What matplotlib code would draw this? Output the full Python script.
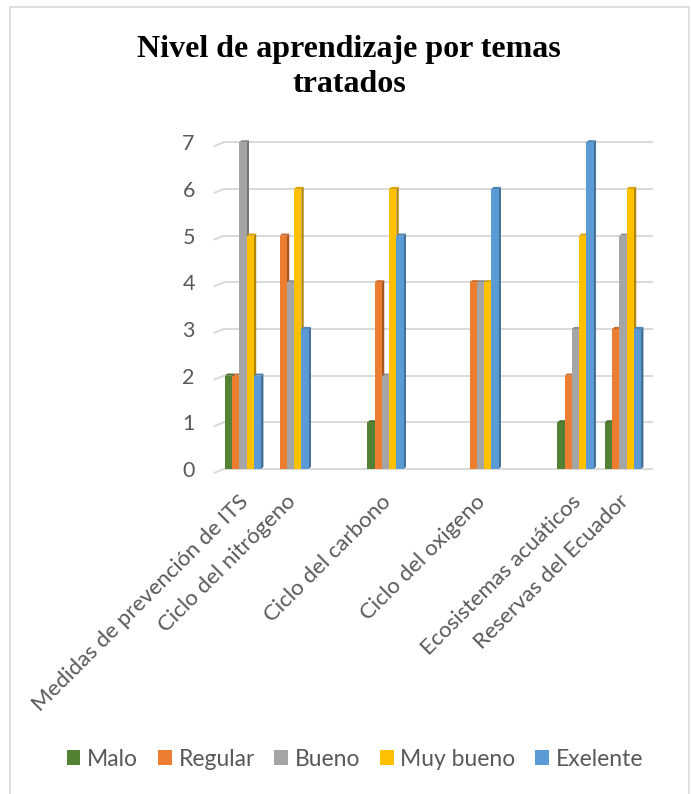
import matplotlib
matplotlib.use("Agg")
import matplotlib.pyplot as plt
from matplotlib.patches import Polygon, Rectangle
from matplotlib.transforms import ScaledTranslation
import matplotlib.colors as mcolors

# ---------------- data ----------------
categories = ["Medidas de prevención de ITS", "Ciclo del nitrógeno", "Ciclo del carbono",
              "Ciclo del oxigeno", "Ecosistemas acuáticos", "Reservas del Ecuador"]
series_names = ["Malo", "Regular", "Bueno", "Muy bueno", "Exelente"]
malo      = [2, 0, 1, 0, 1, 1]
regular   = [2, 5, 4, 4, 2, 3]
bueno     = [7, 4, 2, 4, 3, 5]
muy_bueno = [5, 6, 6, 4, 5, 6]
exelente  = [2, 3, 5, 6, 7, 3]
y_ticks = [0, 1, 2, 3, 4, 5, 6, 7]
title = "Nivel de aprendizaje por temas\ntratados"

# ---------------- layout / style ----------------
series_values = [malo, regular, bueno, muy_bueno, exelente]
colors = ["#548235", "#ED7D31", "#A5A5A5", "#FFC000", "#5B9BD5"]
slots = [0, 1, 3, 5, 7, 8]          # horizontal placement of the groups
bar_w = 0.152
depth_x = 0.05
depth_y = 0.045
text_gray = "#595959"
grid_gray = "#D9D9D9"
FONT = "Lato"

W, H = 691, 794
fig = plt.figure(figsize=(W / 100, H / 100), dpi=100)

# chart border
fig.patches.append(Rectangle((10 / W, -0.01), (689 - 10) / W, 1.01 - 7 / H,
                             transform=fig.transFigure, fill=False,
                             edgecolor="#D9D9D9", linewidth=1.2))

ax = fig.add_axes([224 / W, 1 - 469 / H, (651.7 - 224) / W, (469 - 142.3) / H])
ax.set_xlim(-0.4, 8.604)
ax.set_ylim(0, 7)
for s in ax.spines.values():
    s.set_visible(False)

# gridlines with small side-wall segment
x0, x1 = ax.get_xlim()
for v in y_ticks:
    ax.plot([x0, x1], [v, v], color=grid_gray, lw=1.4, clip_on=False, zorder=0)
    ax.plot([x0 - 0.2, x0], [v - 0.08, v], color=grid_gray, lw=1.4, clip_on=False, zorder=0)


def darker(c, f):
    r, g, b = mcolors.to_rgb(c)
    return (r * f, g * f, b * f)


z = 2
for gi, slot in enumerate(slots):
    for si, vals in enumerate(series_values):
        v = vals[gi]
        if v <= 0:
            continue
        xl = slot - 2.5 * bar_w + si * bar_w
        col = colors[si]
        ax.bar(xl, v, width=bar_w, align="edge", color=col, edgecolor="none",
               zorder=z, clip_on=False)
        side = Polygon([(xl + bar_w, 0), (xl + bar_w + depth_x, depth_y),
                        (xl + bar_w + depth_x, v + depth_y), (xl + bar_w, v)],
                       closed=True, facecolor=darker(col, 0.7), edgecolor="none",
                       zorder=z - 0.5, clip_on=False)
        ax.add_patch(side)
        top = Polygon([(xl, v), (xl + depth_x, v + depth_y),
                       (xl + bar_w + depth_x, v + depth_y), (xl + bar_w, v)],
                      closed=True, facecolor=darker(col, 0.85), edgecolor="none",
                      zorder=z - 0.5, clip_on=False)
        ax.add_patch(top)
        z += 1

ax.set_yticks(y_ticks)
ax.set_yticklabels([str(t) for t in y_ticks], fontsize=15.5, color=text_gray, family=FONT)
ax.tick_params(axis="y", length=0, pad=21)

ax.set_xticks(slots)
ax.set_xticklabels(categories, fontsize=16, color=text_gray, family=FONT,
                   rotation=45, ha="right", rotation_mode="anchor")
ax.tick_params(axis="x", length=0, pad=16)
for lbl in ax.get_xticklabels():
    lbl.set_transform(lbl.get_transform() + ScaledTranslation(-5 / 100, 0, fig.dpi_scale_trans))

fig.text(349 / W, 1 - 92 / H, title, ha="center", va="baseline", fontsize=23,
         fontweight="bold", family="Liberation Serif", linespacing=1.25,
         multialignment="center")

handles = [Rectangle((0, 0), 1, 1, facecolor=c, edgecolor="none") for c in colors]
leg = fig.legend(handles, series_names, loc="center", ncol=5,
                 bbox_to_anchor=(355 / W, 1 - 759 / H), frameon=False,
                 prop={"family": FONT, "size": 16.5}, handlelength=0.6, handleheight=0.6,
                 handletextpad=0.3, columnspacing=0.85, borderaxespad=0)
for t in leg.get_texts():
    t.set_color(text_gray)

fig.savefig("out.png", dpi=100)
